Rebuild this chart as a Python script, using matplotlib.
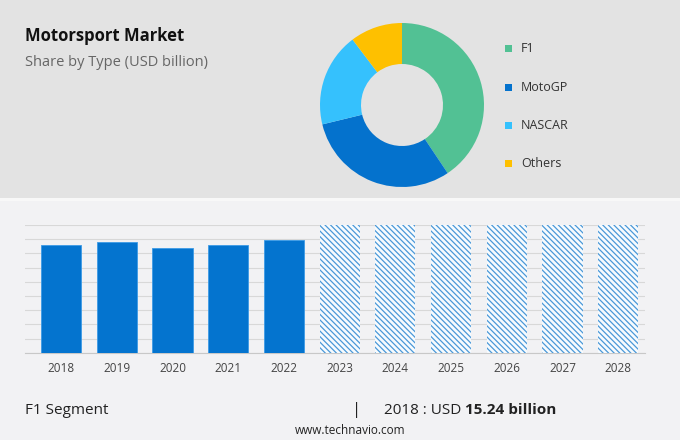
import numpy as np
from matplotlib import pyplot as plt
from matplotlib.patches import Rectangle

plt.rcParams['font.family'] = ['Open Sans', 'DejaVu Sans']
plt.rcParams['hatch.linewidth'] = 0.9

# donut data (share by type)
types = ['F1', 'MotoGP', 'NASCAR', 'Others']
shares = [40.6, 30.6, 18.5, 10.3]
type_colors = ['#52c194', '#0472cd', '#35c1fd', '#fec000']

# bar data
years = ['2018', '2019', '2020', '2021', '2022', '2023', '2024', '2025', '2026', '2027', '2028']
values = [15.24, 15.6, 14.76, 15.24, 15.85]
forecast = [18, 18, 18, 18, 18, 18]

fig = plt.figure(figsize=(6.8, 4.4), dpi=100)
fig.patch.set_facecolor('#f2f2f4')
# top gray band
fig.patches.append(Rectangle((0, 1 - 198/440), 1, 198/440, transform=fig.transFigure,
                             facecolor='#e3e3e3', edgecolor='none', zorder=-1))
fig.patches.append(Rectangle((0, 1 - 201/440), 1, 3/440, transform=fig.transFigure,
                             facecolor='#f8f8f8', edgecolor='none', zorder=-1))

fig.text(25/680, 1 - 36/440, 'Motorsport Market', fontsize=12, fontweight='bold',
         color='#111111', va='center', ha='left')
fig.text(25/680, 1 - 62/440, 'Share by Type (USD billion)', fontsize=10.5,
         color='#666666', va='center', ha='left')

# donut
ax1 = fig.add_axes([320/680, 1 - 187/440, 164/680, 164/440])
ax1.pie(shares, colors=type_colors, startangle=90, counterclock=False,
        wedgeprops=dict(width=0.5, edgecolor='none'))
ax1.set_xlim(-1, 1)
ax1.set_ylim(-1, 1)
ax1.set_aspect('equal')
ax1.axis('off')

# legend by hand
for i in range(len(types)):
    y = 1 - (49 + i*38.3)/440
    fig.patches.append(Rectangle((505/680, y - 3.5/440), 7/680, 7/440, transform=fig.transFigure,
                                 facecolor=type_colors[i], edgecolor='none'))
    fig.text(521/680, y, types[i], fontsize=9, color='#333333', va='center', ha='left')

# bars
ax2 = fig.add_axes([25/680, 1 - 352.7/440, 620/680, 127.7/440])
ax2.set_facecolor('none')
x = np.arange(len(years))
ax2.bar(x[:len(values)], values, width=0.72, color='#0474cf', edgecolor='#3c9be6',
        linewidth=0.6, zorder=3)
ax2.bar(x[len(values):], forecast, width=0.72, color='#f7fbfe', edgecolor='#4a98d8',
        hatch='\\\\\\\\\\\\', linewidth=0, zorder=3)
ax2.set_xlim(-0.646, 10.48)
ax2.set_ylim(0, 18)
ax2.set_yticks(np.arange(0, 19, 2))
ax2.yaxis.grid(True, color='#d8d8d8', linewidth=0.8)
ax2.set_axisbelow(True)
ax2.tick_params(axis='y', left=False, labelleft=False)
ax2.tick_params(axis='x', length=0, pad=7, labelsize=8.5, labelcolor='#444444')
ax2.set_xticks(x)
ax2.set_xticklabels(years)
for s in ['top', 'left', 'right']:
    ax2.spines[s].set_visible(False)
ax2.spines['bottom'].set_color('#c8c8c8')

# footer
fig.text(25/680, 1 - 410/440, 'F1 Segment', fontsize=11, color='#222222', va='center', ha='left')
fig.text(352/680, 1 - 410/440, '|', fontsize=12, color='#222222', va='center', ha='left')
t = fig.text(384/680, 1 - 410/440, '2018 : USD ', fontsize=11, color='#222222', va='center', ha='left')
fig.canvas.draw()
bb = t.get_window_extent()
fig.text(bb.x1/fig.bbox.width, 1 - 410/440, '15.24 billion', fontsize=11, fontweight='bold',
         color='#222222', va='center', ha='left')
fig.text(350/680, 1 - 430/440, 'www.technavio.com', fontsize=8.5, color='#222222',
         va='center', ha='center')

plt.savefig('out.png', dpi=100, facecolor=fig.get_facecolor())
